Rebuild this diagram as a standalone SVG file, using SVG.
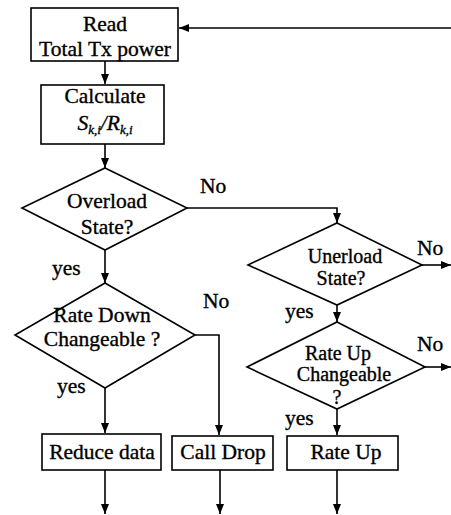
<svg xmlns="http://www.w3.org/2000/svg" width="451" height="515" viewBox="0 0 451 515">
<style>
text{font-family:"Liberation Serif","Times New Roman",serif;font-size:21.5px;fill:#000;stroke:#000;stroke-width:0.35;}
.c{text-anchor:middle;}
.s{font-size:20px;}
.n{fill:#fff;stroke:#000;stroke-width:1.6;}
.e{fill:none;stroke:#000;stroke-width:1.6;}
</style>
<defs>
<marker id="ah" markerUnits="userSpaceOnUse" markerWidth="10" markerHeight="8" refX="10" refY="4" orient="auto">
<path d="M0,0 L10,4 L0,8 z" fill="#000"/>
</marker>
</defs>
<rect width="451" height="515" fill="#fff"/>
<g id="connectors">
<path class="e" d="M451,28 H179" marker-end="url(#ah)"/>
<path class="e" d="M105,61 V84" marker-end="url(#ah)"/>
<path class="e" d="M105,144 V168" marker-end="url(#ah)"/>
<path class="e" d="M187,208 H337 V223" marker-end="url(#ah)"/>
<path class="e" d="M105,250 V283" marker-end="url(#ah)"/>
<path class="e" d="M195,335 H219 V435" marker-end="url(#ah)"/>
<path class="e" d="M105,388 V433" marker-end="url(#ah)"/>
<path class="e" d="M422,265 H451" marker-end="url(#ah)"/>
<path class="e" d="M337,305 V322" marker-end="url(#ah)"/>
<path class="e" d="M425,367 H451" marker-end="url(#ah)"/>
<path class="e" d="M337,409 V435" marker-end="url(#ah)"/>
<path class="e" d="M105,470 V514" marker-end="url(#ah)"/>
<path class="e" d="M220,470 V514" marker-end="url(#ah)"/>
<path class="e" d="M337,470 V514" marker-end="url(#ah)"/>
<text x="200" y="193">No</text>
<text x="417" y="255">No</text>
<text x="52" y="275">yes</text>
<text x="203" y="308">No</text>
<text x="285" y="318">yes</text>
<text x="417" y="351">No</text>
<text x="57" y="393">yes</text>
<text x="285" y="425">yes</text>
</g>
<g id="read">
<rect class="n" x="31" y="8" width="147" height="53"/>
<text class="c" x="105" y="31">Read</text>
<text class="c" x="105" y="56">Total Tx power</text>
</g>
<g id="calculate">
<rect class="n" x="41" y="85" width="123" height="59"/>
<text class="c" x="105" y="103">Calculate</text>
<text class="c" x="105" y="130" font-style="italic">S<tspan font-size="13" dy="4">k,i</tspan><tspan dy="-4">/R</tspan><tspan font-size="13" dy="4">k,i</tspan></text>
</g>
<g id="overload">
<polygon class="n" points="105,168 187,208 105,250 22,208"/>
<text class="c" x="107" y="208">Overload</text>
<text class="c" x="107" y="234">State?</text>
</g>
<g id="underload">
<polygon class="n" points="337,223 422,265 337,305 248,265"/>
<text class="c s" x="345" y="263">Unerload</text>
<text class="c s" x="341" y="285">State?</text>
</g>
<g id="ratedown">
<polygon class="n" points="105,283 195,335 105,388 15,335"/>
<text class="c" x="102" y="322">Rate Down</text>
<text class="c" x="102" y="346">Changeable ?</text>
</g>
<g id="rateupq">
<polygon class="n" points="337,322 425,367 337,409 247,367"/>
<text class="c s" x="338" y="360">Rate Up</text>
<text class="c s" x="344" y="381">Changeable</text>
<text class="c s" x="337" y="404">?</text>
</g>
<g id="reduce">
<rect class="n" x="42" y="434" width="119" height="36"/>
<text class="c" x="102" y="459">Reduce data</text>
</g>
<g id="calldrop">
<rect class="n" x="172" y="436" width="101" height="34"/>
<text class="c" x="223" y="459">Call Drop</text>
</g>
<g id="rateup">
<rect class="n" x="287" y="436" width="111" height="34"/>
<text class="c" x="346" y="459">Rate Up</text>
</g>
</svg>
